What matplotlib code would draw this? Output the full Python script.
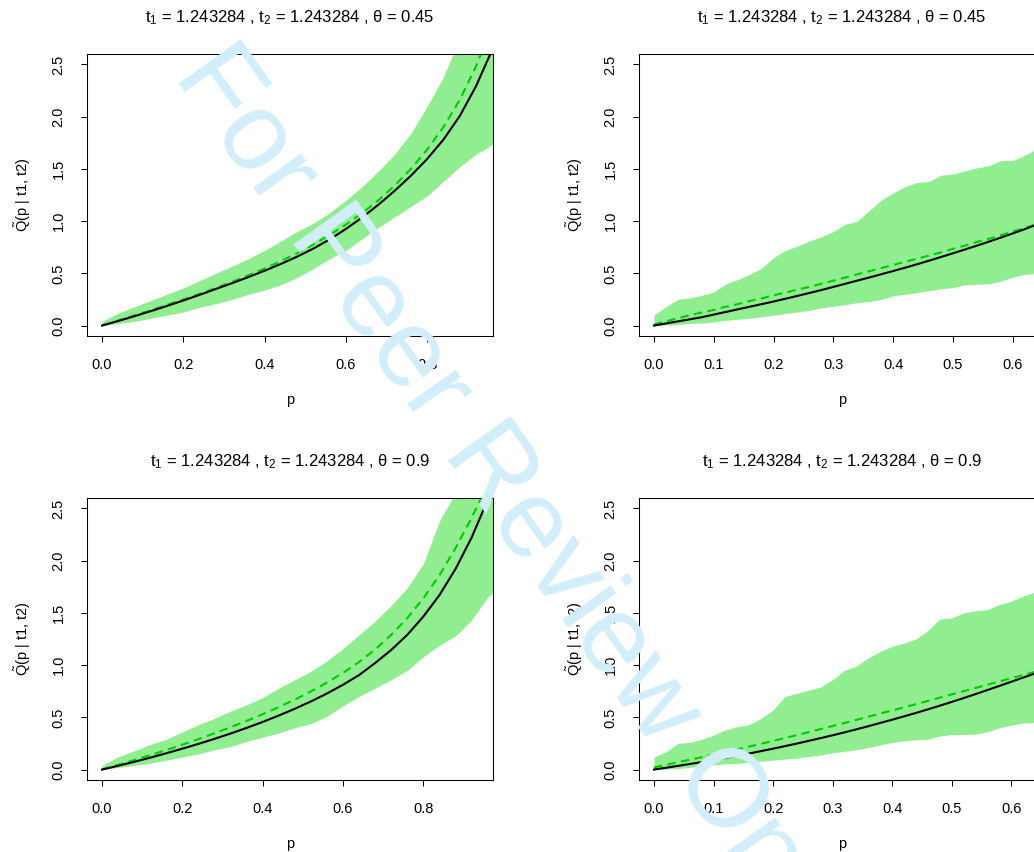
import numpy as np
import matplotlib.pyplot as plt

plt.rcParams['font.family'] = ['Liberation Sans', 'DejaVu Sans']
plt.rcParams['mathtext.fontset'] = 'custom'
plt.rcParams['mathtext.rm'] = 'Liberation Sans'
plt.rcParams['mathtext.it'] = 'Liberation Sans:italic'

# ---------------------------
# Datos
# ---------------------------
# paneles izquierdos (p de 0 a 0.96, paso 0.04, más 0.98)
p_left = [0.00, 0.04, 0.08, 0.12, 0.16, 0.20, 0.24, 0.28, 0.32, 0.36, 0.40, 0.44, 0.48,
          0.52, 0.56, 0.60, 0.64, 0.68, 0.72, 0.76, 0.80, 0.84, 0.88, 0.92, 0.96, 0.98]

tl_true = [0.00, 0.044, 0.09, 0.138, 0.188, 0.24, 0.294, 0.35, 0.406, 0.464, 0.525, 0.59, 0.66,
           0.737, 0.825, 0.925, 1.035, 1.157, 1.29, 1.435, 1.595, 1.78, 2.005, 2.29, 2.64, 2.86]
tl_mean = [0.00, 0.048, 0.097, 0.147, 0.198, 0.25, 0.304, 0.36, 0.419, 0.481, 0.547, 0.617, 0.693,
           0.776, 0.867, 0.967, 1.077, 1.20, 1.34, 1.50, 1.685, 1.90, 2.16, 2.48, 2.87, 3.10]
tl_upper = [0.04, 0.12, 0.18, 0.24, 0.30, 0.36, 0.43, 0.50, 0.57, 0.64, 0.72, 0.81, 0.90,
            0.98, 1.08, 1.20, 1.33, 1.48, 1.64, 1.84, 2.10, 2.38, 2.75, 3.10, 3.50, 3.80]
tl_lower = [0.00, 0.02, 0.04, 0.07, 0.10, 0.13, 0.175, 0.21, 0.25, 0.30, 0.34, 0.39, 0.46,
            0.545, 0.64, 0.72, 0.83, 0.94, 1.04, 1.14, 1.24, 1.38, 1.52, 1.64, 1.73, 1.78]

bl_true = [0.00, 0.036, 0.074, 0.114, 0.156, 0.20, 0.246, 0.294, 0.345, 0.399, 0.456, 0.517, 0.582,
           0.652, 0.728, 0.812, 0.905, 1.02, 1.145, 1.29, 1.465, 1.67, 1.92, 2.22, 2.58, 2.84]
bl_mean = [0.00, 0.045, 0.091, 0.138, 0.187, 0.238, 0.291, 0.347, 0.405, 0.466, 0.530, 0.598, 0.670,
           0.748, 0.833, 0.926, 1.03, 1.15, 1.29, 1.45, 1.64, 1.86, 2.12, 2.41, 2.72, 2.90]
bl_upper = [0.04, 0.12, 0.18, 0.24, 0.29, 0.36, 0.43, 0.49, 0.56, 0.62, 0.69, 0.78, 0.86,
            0.94, 1.04, 1.16, 1.29, 1.42, 1.57, 1.74, 1.97, 2.38, 2.65, 2.90, 3.30, 3.50]
bl_lower = [0.00, 0.02, 0.04, 0.06, 0.09, 0.12, 0.15, 0.19, 0.22, 0.27, 0.31, 0.35, 0.40,
            0.44, 0.51, 0.61, 0.70, 0.78, 0.86, 0.95, 1.08, 1.19, 1.28, 1.43, 1.65, 1.71]

# paneles derechos (p de 0 a 0.66, paso 0.02)
p_right = [0.00, 0.02, 0.04, 0.06, 0.08, 0.10, 0.12, 0.14, 0.16, 0.18, 0.20, 0.22, 0.24,
           0.26, 0.28, 0.30, 0.32, 0.34, 0.36, 0.38, 0.40, 0.42, 0.44, 0.46, 0.48, 0.50,
           0.52, 0.54, 0.56, 0.58, 0.60, 0.62, 0.64, 0.66]

tr_true = [0.00, 0.02, 0.04, 0.06, 0.08, 0.105, 0.13, 0.155, 0.18, 0.205, 0.23, 0.257, 0.284,
           0.312, 0.34, 0.37, 0.40, 0.43, 0.46, 0.491, 0.522, 0.554, 0.587, 0.621, 0.656, 0.692,
           0.728, 0.765, 0.803, 0.842, 0.882, 0.923, 0.966, 1.01]
tr_mean = [0.01, 0.04, 0.07, 0.10, 0.125, 0.15, 0.18, 0.205, 0.235, 0.26, 0.29, 0.315, 0.345,
           0.37, 0.40, 0.43, 0.46, 0.49, 0.52, 0.55, 0.58, 0.61, 0.64, 0.67, 0.70, 0.735,
           0.765, 0.80, 0.83, 0.865, 0.90, 0.935, 0.97, 1.00]
tr_upper = [0.10, 0.18, 0.25, 0.265, 0.29, 0.32, 0.40, 0.44, 0.49, 0.55, 0.65, 0.72, 0.76,
            0.81, 0.85, 0.90, 0.97, 1.00, 1.10, 1.20, 1.27, 1.33, 1.37, 1.38, 1.44, 1.45,
            1.48, 1.51, 1.53, 1.58, 1.58, 1.63, 1.69, 1.72]
tr_lower = [0.00, 0.005, 0.01, 0.02, 0.025, 0.035, 0.05, 0.06, 0.07, 0.085, 0.10, 0.115, 0.13,
            0.145, 0.17, 0.185, 0.20, 0.22, 0.23, 0.25, 0.285, 0.30, 0.315, 0.335, 0.35, 0.365,
            0.39, 0.395, 0.40, 0.425, 0.465, 0.49, 0.50, 0.51]

br_true = [0.00, 0.017, 0.035, 0.053, 0.072, 0.091, 0.111, 0.132, 0.154, 0.177, 0.20, 0.224, 0.249,
           0.275, 0.301, 0.328, 0.356, 0.385, 0.415, 0.446, 0.477, 0.509, 0.542, 0.576, 0.611, 0.647,
           0.684, 0.722, 0.761, 0.80, 0.84, 0.88, 0.92, 0.96]
br_mean = [0.02, 0.045, 0.07, 0.094, 0.118, 0.143, 0.168, 0.194, 0.22, 0.247, 0.274, 0.302, 0.33,
           0.359, 0.388, 0.417, 0.446, 0.476, 0.506, 0.536, 0.566, 0.596, 0.626, 0.657, 0.688, 0.719,
           0.75, 0.781, 0.812, 0.843, 0.874, 0.905, 0.936, 0.967]
br_upper = [0.12, 0.17, 0.25, 0.26, 0.29, 0.33, 0.38, 0.41, 0.43, 0.49, 0.57, 0.70, 0.73,
            0.76, 0.79, 0.86, 0.95, 0.99, 1.07, 1.13, 1.18, 1.21, 1.25, 1.33, 1.44, 1.45,
            1.50, 1.52, 1.53, 1.58, 1.61, 1.66, 1.70, 1.74]
br_lower = [0.00, 0.005, 0.01, 0.02, 0.035, 0.045, 0.055, 0.06, 0.07, 0.08, 0.09, 0.10, 0.11,
            0.125, 0.14, 0.16, 0.175, 0.19, 0.21, 0.235, 0.26, 0.275, 0.285, 0.29, 0.32, 0.335,
            0.335, 0.34, 0.36, 0.40, 0.425, 0.445, 0.45, 0.46]

titles = ['$\\mathregular{t_1}$ = 1.243284 , $\\mathregular{t_2}$ = 1.243284 , θ = 0.45',
          '$\\mathregular{t_1}$ = 1.243284 , $\\mathregular{t_2}$ = 1.243284 , θ = 0.9']
ylabel = '$\\tilde{\\mathregular{Q}}$(p | t1, t2)'
yticks = [0.0, 0.5, 1.0, 1.5, 2.0, 2.5]
xticks_left = [0.0, 0.2, 0.4, 0.6, 0.8]
xticks_right = [0.0, 0.1, 0.2, 0.3, 0.4, 0.5, 0.6]

BAND = '#90EE90'
DASH = '#00CD00'
W, H = 1034, 852

fig = plt.figure(figsize=(W / 100, H / 100), dpi=100)

# (left px, top px, xlim, xticks, p, true, mean, lower, upper, title)
panels = [
    (87, 54, (-0.037, 0.962), xticks_left, p_left, tl_true, tl_mean, tl_lower, tl_upper, titles[0]),
    (639, 54, (-0.025, 0.654), xticks_right, p_right, tr_true, tr_mean, tr_lower, tr_upper, titles[0]),
    (87, 498, (-0.0374, 0.9734), xticks_left, p_left, bl_true, bl_mean, bl_lower, bl_upper, titles[1]),
    (639, 498, (-0.0253, 0.657), xticks_right, p_right, br_true, br_mean, br_lower, br_upper, titles[1]),
]
aw, ah = 406, 282

for left, top, xlim, xt, p, q_true, q_mean, q_lo, q_up, title in panels:
    ax = fig.add_axes([left / W, 1 - (top + ah) / H, aw / W, ah / H])
    ax.fill_between(p, q_lo, q_up, color=BAND, linewidth=0)
    ax.plot(p, q_mean, color=DASH, lw=1.5, linestyle=(0, (4, 2.6)))
    ax.plot(p, q_true, color='black', lw=1.5)
    ax.set_xlim(*xlim)
    ax.set_ylim(-0.1, 2.6)
    ax.set_xticks(xt)
    ax.set_xticklabels([f'{v:.1f}' for v in xt])
    ax.set_yticks(yticks)
    ax.set_yticklabels([f'{v:.1f}' for v in yticks], rotation=90, va='center')
    ax.tick_params(direction='out', length=4.5, width=0.75, labelsize=10.5, pad=11)
    for s in ax.spines.values():
        s.set_linewidth(0.75)
    ax.text(0.5, 1 + 36 / ah, title, transform=ax.transAxes, ha='center', va='center', fontsize=12)
    ax.text(0.5, -64 / ah, 'p', transform=ax.transAxes, ha='center', va='center', fontsize=10.5)
    ax.text(-64 / aw, 0.5, ylabel, transform=ax.transAxes, ha='center', va='center',
            rotation=90, fontsize=10.5)

# marca de agua
fig.text(173 / W, 1 - 76 / H, 'For Peer Review Only', rotation=-54.5, rotation_mode='anchor',
         ha='left', va='baseline', fontsize=80, color='#D3EEFB', zorder=10)

fig.savefig('out.png', dpi=100)
